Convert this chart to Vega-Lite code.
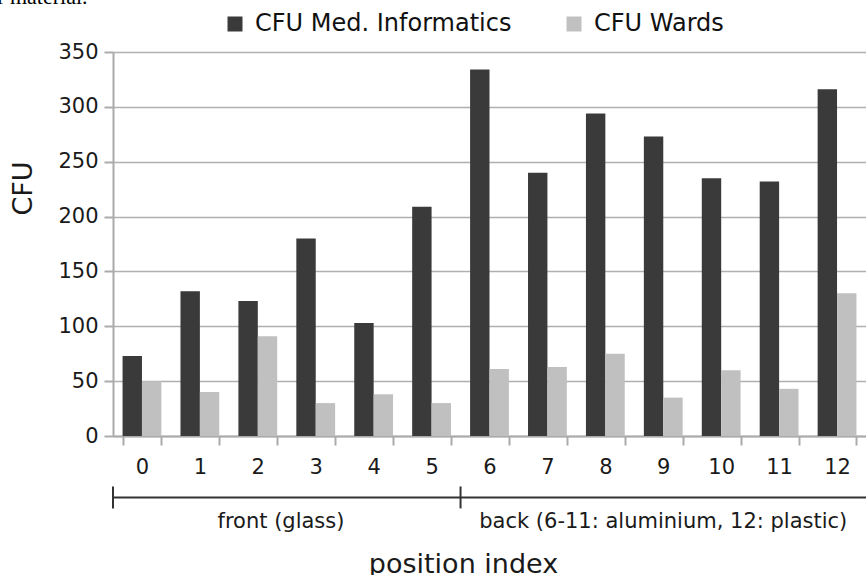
{
  "$schema": "https://vega.github.io/schema/vega-lite/v6.json",
  "width": 753,
  "height": 384,
  "autosize": {"type": "none"},
  "padding": {"left": 113, "top": 52, "right": 0, "bottom": 139},
  "background": "white",
  "config": {"font": "DejaVu Sans", "view": {"stroke": null}},
  "datasets": {
    "bars": [
      {"position": 0, "series": "CFU Med. Informatics", "cfu": 73},
      {"position": 0, "series": "CFU Wards", "cfu": 50},
      {"position": 1, "series": "CFU Med. Informatics", "cfu": 132},
      {"position": 1, "series": "CFU Wards", "cfu": 40},
      {"position": 2, "series": "CFU Med. Informatics", "cfu": 123},
      {"position": 2, "series": "CFU Wards", "cfu": 91},
      {"position": 3, "series": "CFU Med. Informatics", "cfu": 180},
      {"position": 3, "series": "CFU Wards", "cfu": 30},
      {"position": 4, "series": "CFU Med. Informatics", "cfu": 103},
      {"position": 4, "series": "CFU Wards", "cfu": 38},
      {"position": 5, "series": "CFU Med. Informatics", "cfu": 209},
      {"position": 5, "series": "CFU Wards", "cfu": 30},
      {"position": 6, "series": "CFU Med. Informatics", "cfu": 334},
      {"position": 6, "series": "CFU Wards", "cfu": 61},
      {"position": 7, "series": "CFU Med. Informatics", "cfu": 240},
      {"position": 7, "series": "CFU Wards", "cfu": 63},
      {"position": 8, "series": "CFU Med. Informatics", "cfu": 294},
      {"position": 8, "series": "CFU Wards", "cfu": 75},
      {"position": 9, "series": "CFU Med. Informatics", "cfu": 273},
      {"position": 9, "series": "CFU Wards", "cfu": 35},
      {"position": 10, "series": "CFU Med. Informatics", "cfu": 235},
      {"position": 10, "series": "CFU Wards", "cfu": 60},
      {"position": 11, "series": "CFU Med. Informatics", "cfu": 232},
      {"position": 11, "series": "CFU Wards", "cfu": 43},
      {"position": 12, "series": "CFU Med. Informatics", "cfu": 316},
      {"position": 12, "series": "CFU Wards", "cfu": 130}
    ],
    "brackets": [
      {"px": -0.5, "px2": 12.5, "cfu": -56, "cfu2": -56},
      {"px": -0.5, "px2": -0.5, "cfu": -46, "cfu2": -66},
      {"px": 5.5, "px2": 5.5, "cfu": -46, "cfu2": -66}
    ],
    "labels": [
      {"px": 2.4, "cfu": -78, "label": "front (glass)"},
      {"px": 9.0, "cfu": -78, "label": "back (6-11: aluminium, 12: plastic)"}
    ],
    "caption": [
      {"px": -2.5, "cfu": 394, "label": "r material."}
    ]
  },
  "layer": [
    {
      "data": {"name": "bars"},
      "mark": {"type": "bar"},
      "encoding": {
        "x": {
          "field": "position", "type": "ordinal",
          "scale": {"paddingInner": 0.33, "paddingOuter": 0.165},
          "axis": {
            "title": "position index", "titleFontSize": 27, "titleFontWeight": "normal", "titleColor": "#1a1a1a",
            "titleX": 350, "titleY": 136, "titleAlign": "center", "titleBaseline": "alphabetic",
            "labelAngle": 0, "labelFontSize": 21, "labelColor": "#1a1a1a", "labelPadding": 11,
            "tickBand": "extent", "tickSize": 9, "tickColor": "#aaaaaa", "tickWidth": 2,
            "domainColor": "#aaaaaa", "domainWidth": 2, "grid": false
          }
        },
        "xOffset": {"field": "series", "type": "nominal", "scale": {"domain": ["CFU Med. Informatics", "CFU Wards"], "paddingInner": 0, "paddingOuter": 0}},
        "y": {
          "field": "cfu", "type": "quantitative",
          "scale": {"domain": [0, 350], "nice": false},
          "axis": {
            "title": "CFU", "titleFontSize": 27, "titleFontWeight": "normal", "titleColor": "#1a1a1a",
            "titleX": -90, "titleY": 136, "titleAngle": -90, "titleAlign": "center", "titleBaseline": "middle",
            "values": [0, 50, 100, 150, 200, 250, 300, 350],
            "labelFontSize": 21, "labelColor": "#1a1a1a", "labelPadding": 6,
            "tickSize": 9, "tickColor": "#aaaaaa", "tickWidth": 2,
            "domainColor": "#aaaaaa", "domainWidth": 2,
            "grid": true, "gridColor": "#b0b0b0", "gridWidth": 1.6
          }
        },
        "color": {
          "field": "series", "type": "nominal",
          "scale": {"domain": ["CFU Med. Informatics", "CFU Wards"], "range": ["#3a3a3a", "#c0c0c0"]},
          "legend": {
            "title": null, "orient": "none", "legendX": 110, "legendY": -40, "direction": "horizontal",
            "labelFontSize": 24, "labelColor": "#111111", "labelLimit": 0, "symbolType": "square", "symbolSize": 225,
            "symbolStrokeWidth": 0, "labelOffset": 8, "columnPadding": 50, "padding": 0
          }
        }
      }
    },
    {
      "data": {"name": "brackets"},
      "mark": {"type": "rule", "color": "#333333", "strokeWidth": 2},
      "encoding": {
        "x": {"field": "px", "type": "quantitative", "scale": {"domain": [-0.5, 12.5], "nice": false, "zero": false}, "axis": null},
        "x2": {"field": "px2"},
        "y": {"field": "cfu", "type": "quantitative", "scale": {"domain": [0, 350], "nice": false}},
        "y2": {"field": "cfu2"}
      }
    },
    {
      "data": {"name": "labels"},
      "mark": {"type": "text", "fontSize": 21, "color": "#1a1a1a", "baseline": "middle", "align": "center"},
      "encoding": {
        "x": {"field": "px", "type": "quantitative", "scale": {"domain": [-0.5, 12.5], "nice": false, "zero": false}, "axis": null},
        "y": {"field": "cfu", "type": "quantitative", "scale": {"domain": [0, 350], "nice": false}},
        "text": {"field": "label"}
      }
    },
    {
      "data": {"name": "caption"},
      "mark": {"type": "text", "font": "Liberation Serif", "fontSize": 22, "color": "#000000", "baseline": "alphabetic", "align": "left"},
      "encoding": {
        "x": {"field": "px", "type": "quantitative", "scale": {"domain": [-0.5, 12.5], "nice": false, "zero": false}, "axis": null},
        "y": {"field": "cfu", "type": "quantitative", "scale": {"domain": [0, 350], "nice": false}},
        "text": {"field": "label"}
      }
    }
  ],
  "resolve": {"scale": {"x": "independent"}}
}
